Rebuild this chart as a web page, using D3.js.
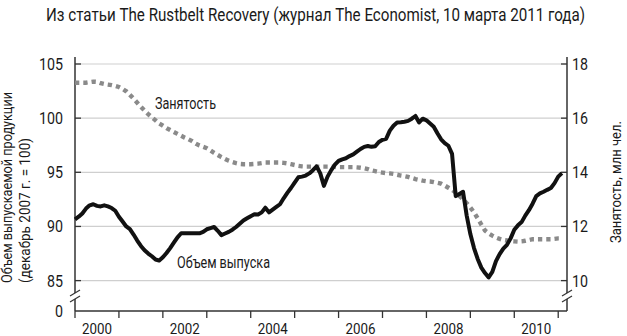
<!DOCTYPE html>
<html>
<head>
<meta charset="utf-8">
<script src="https://cdn.jsdelivr.net/npm/d3@7"></script>
<style>
  body { margin: 0; background: #fff; }
  svg { display: block; }
  text { font-family: "Roboto", "DejaVu Sans Condensed", sans-serif; fill: #1a1a1a; }
</style>
</head>
<body>
<div id="content"></div>
<script>
// data: monthly, Jan 2000 .. Feb 2011
var startYear = 2000;
// output index, december 2007 = 100 (left axis)
var outputVals = [
  90.66, 90.9, 91.2, 91.65, 91.95, 92.05, 91.9, 91.85, 91.95, 91.85, 91.7, 91.45,
  90.9, 90.45, 90.0, 89.75, 89.25, 88.7, 88.2, 87.8, 87.5, 87.25, 86.95, 86.85,
  87.15, 87.55, 88.0, 88.5, 89.0, 89.37, 89.37, 89.37, 89.37, 89.37, 89.37, 89.5,
  89.74, 89.85, 89.95, 89.6, 89.2, 89.35, 89.5, 89.7, 89.95, 90.25, 90.55, 90.75,
  90.95, 91.12, 91.1, 91.3, 91.73, 91.3, 91.55, 91.8, 92.05, 92.6, 93.1, 93.55,
  94.05, 94.54, 94.6, 94.7, 94.9, 95.2, 95.55, 94.9, 93.75, 94.6, 95.2, 95.7,
  96.05, 96.2, 96.3, 96.5, 96.65, 96.9, 97.15, 97.35, 97.43, 97.35, 97.4, 97.8,
  98.0, 98.1, 98.85, 99.3, 99.6, 99.63, 99.67, 99.75, 99.95, 100.2, 99.6, 99.95,
  99.8, 99.5, 99.2, 98.6, 98.05, 97.7, 97.45, 96.7, 92.8, 93.0, 93.2, 91.0,
  89.3, 88.0, 87.0, 86.2, 85.7, 85.3, 85.8, 86.8, 87.45, 87.95, 88.3, 88.9,
  89.7, 90.1, 90.4, 91.0, 91.5, 92.1, 92.8, 93.05, 93.2, 93.38, 93.55, 94.0,
  94.6, 94.92
];
// employment, million people (right axis)
var employmentVals = [
  17.31, 17.31, 17.31, 17.31, 17.33, 17.35, 17.34, 17.29, 17.26, 17.24, 17.22, 17.19,
  17.15, 17.08, 16.99, 16.86, 16.72, 16.57, 16.42, 16.28, 16.15, 16.03, 15.92, 15.8,
  15.72, 15.63, 15.56, 15.49, 15.42, 15.35, 15.28, 15.22, 15.15, 15.06, 14.99, 14.94,
  14.89, 14.81, 14.72, 14.64, 14.56, 14.49, 14.43, 14.38, 14.34, 14.31, 14.3, 14.3,
  14.3, 14.31, 14.32, 14.34, 14.36, 14.36, 14.36, 14.36, 14.36, 14.35, 14.33, 14.3,
  14.27, 14.24, 14.22, 14.21, 14.21, 14.21, 14.21, 14.21, 14.21, 14.21, 14.21, 14.2,
  14.19, 14.19, 14.19, 14.19, 14.19, 14.18, 14.17, 14.15, 14.12, 14.07, 14.04, 14.01,
  13.99, 13.97, 13.96, 13.94, 13.91, 13.88, 13.86, 13.83, 13.79, 13.75, 13.72, 13.69,
  13.67, 13.66, 13.64, 13.61, 13.58, 13.51, 13.43, 13.35, 13.25, 13.13, 13.0, 12.86,
  12.7, 12.52, 12.3, 12.07, 11.85, 11.74, 11.66, 11.59, 11.54, 11.5, 11.48, 11.46,
  11.45, 11.44, 11.45, 11.47, 11.5, 11.53, 11.53, 11.53, 11.53, 11.53, 11.53, 11.54,
  11.56, 11.56
];
var leftTicks  = [85, 90, 95, 100, 105];
var rightTicks = [10, 12, 14, 16, 18];
var yearTicks  = d3.range(2000, 2012);
var yearLabels = [2000, 2002, 2004, 2006, 2008, 2010];

var titleText   = "Из статьи The Rustbelt Recovery (журнал The Economist, 10 марта 2011 года)";
var leftTitle1  = "Объем выпускаемой продукции";
var leftTitle2  = "(декабрь 2007 г. = 100)";
var rightTitle  = "Занятость, млн чел.";
var outputLabel = "Объем выпуска";
var emplLabel   = "Занятость";

var W = 627, H = 336;
var x0 = 75, x1 = 567, yTop = 64, yBot = 280.6, yBase = 311, axisTop = 57;
var axisColor = '#333';
var gridColor = '#cfcfcf';

var svg = d3.select("#content").append("svg")
    .attr("width", W).attr("height", H);

var x = d3.scaleLinear().domain([2000, 2011.2]).range([x0, x1]);
var yL = d3.scaleLinear().domain([85, 105]).range([yBot, yTop]);
var yR = d3.scaleLinear().domain([10, 18]).range([yBot, yTop]);

function monthT(i){ return startYear + i / 12; }

//squeeze text to the condensed width of the original face
function fit(sel, w){
    sel.attr("textLength", w).attr("lengthAdjust", "spacingAndGlyphs");
    return sel;
}
function digitsW(d){ return String(d).length * 8; }

//title (stretched vertically a bit, condensed horizontally)
svg.append("text").text(titleText)
    .attr("transform", "translate(46,21) scale(1,1.12)")
    .style("font-size", "16px").call(fit, 539);

//grid
svg.append("g").selectAll("line").data(leftTicks).enter().append("line")
    .attr("x1", x0).attr("x2", x1)
    .attr("y1", function(d){ return yL(d); }).attr("y2", function(d){ return yL(d); })
    .attr("stroke", gridColor).attr("stroke-width", 1.2);

//left axis with its tick marks
var gl = svg.append("g").attr("transform", "translate(" + x0 + ",0)");
gl.selectAll("line.tk").data(leftTicks).enter().append("line")
    .attr("x1", 0).attr("x2", 6)
    .attr("y1", function(d){ return yL(d); }).attr("y2", function(d){ return yL(d); })
    .attr("stroke", axisColor).attr("stroke-width", 1.3);
gl.selectAll("text").data(leftTicks).enter().append("text")
    .text(function(d){ return d; })
    .attr("x", function(d){ return -12 - digitsW(d); }).attr("y", function(d){ return yL(d); }).attr("dy", "0.36em")
    .style("font-size", "16.5px")
    .each(function(d){ fit(d3.select(this), digitsW(d)); });
gl.append("text").text("0").attr("x", -20).attr("y", yBase).attr("dy", "0.36em")
    .style("font-size", "16.5px").call(fit, 8);

//right axis
var gr = svg.append("g").attr("transform", "translate(" + x1 + ",0)");
gr.selectAll("line.tk").data(rightTicks).enter().append("line")
    .attr("x1", -6).attr("x2", 0)
    .attr("y1", function(d){ return yR(d); }).attr("y2", function(d){ return yR(d); })
    .attr("stroke", axisColor).attr("stroke-width", 1.3);
gr.selectAll("text").data(rightTicks).enter().append("text")
    .text(function(d){ return d; })
    .attr("x", 5).attr("y", function(d){ return yR(d); }).attr("dy", "0.36em")
    .style("font-size", "16.5px")
    .each(function(d){ fit(d3.select(this), digitsW(d)); });

//axis lines
[x0, x1].forEach(function(ax){
    svg.append("line").attr("x1", ax).attr("x2", ax).attr("y1", axisTop).attr("y2", yBase)
        .attr("stroke", axisColor).attr("stroke-width", 1.5);
});
svg.append("line").attr("x1", x0).attr("x2", x1).attr("y1", yBase).attr("y2", yBase)
    .attr("stroke", axisColor).attr("stroke-width", 1.5);

//x ticks
svg.append("g").selectAll("line").data(yearTicks).enter().append("line")
    .attr("x1", function(d){ return x(d); }).attr("x2", function(d){ return x(d); })
    .attr("y1", yBase).attr("y2", yBase + 7)
    .attr("stroke", axisColor).attr("stroke-width", 1.3);
svg.append("g").selectAll("text").data(yearLabels).enter().append("text")
    .text(function(d){ return d; })
    .attr("x", function(d){ return x(d + 0.5) - 15; }).attr("y", 333.5)
    .style("font-size", "15px").call(fit, 30);

//axis breaks
function drawBreak(ax, by){
    svg.append("rect").attr("x", ax - 4).attr("y", by - 3).attr("width", 8).attr("height", 6)
        .attr("fill", "#fff");
    [-3, 3].forEach(function(o){
        svg.append("line")
            .attr("x1", ax - 5).attr("y1", by + o + 3)
            .attr("x2", ax + 5).attr("y2", by + o - 3)
            .attr("stroke", axisColor).attr("stroke-width", 1.2);
    });
}
drawBreak(x0, 296);
drawBreak(x1, 296);

//series
var emplLine = d3.line()
    .x(function(d, i){ return x(monthT(i)); })
    .y(function(d){ return yR(d); });
svg.append("path").datum(employmentVals).attr("d", emplLine)
    .attr("fill", "none").attr("stroke", "#8a8a8a").attr("stroke-width", 4.4)
    .attr("stroke-dasharray", "4.3,4");

var outLine = d3.line()
    .x(function(d, i){ return x(monthT(i)); })
    .y(function(d){ return yL(d); });
svg.append("path").datum(outputVals).attr("d", outLine)
    .attr("fill", "none").attr("stroke", "#111").attr("stroke-width", 4)
    .attr("stroke-linejoin", "round");

//series labels
svg.append("text").text(emplLabel).attr("x", 155).attr("y", 109)
    .style("font-size", "16px").call(fit, 61);
svg.append("text").text(outputLabel).attr("x", 177).attr("y", 268)
    .style("font-size", "16px").call(fit, 93);

//axis titles
svg.append("text").text(leftTitle1)
    .attr("transform", "translate(12,283) rotate(-90)")
    .style("font-size", "14.5px").call(fit, 191);
svg.append("text").text(leftTitle2)
    .attr("transform", "translate(30,283) rotate(-90)")
    .style("font-size", "14.5px").call(fit, 145);
svg.append("text").text(rightTitle)
    .attr("transform", "translate(621,243) rotate(-90)")
    .style("font-size", "14.5px").call(fit, 122);
</script>
</body>
</html>
